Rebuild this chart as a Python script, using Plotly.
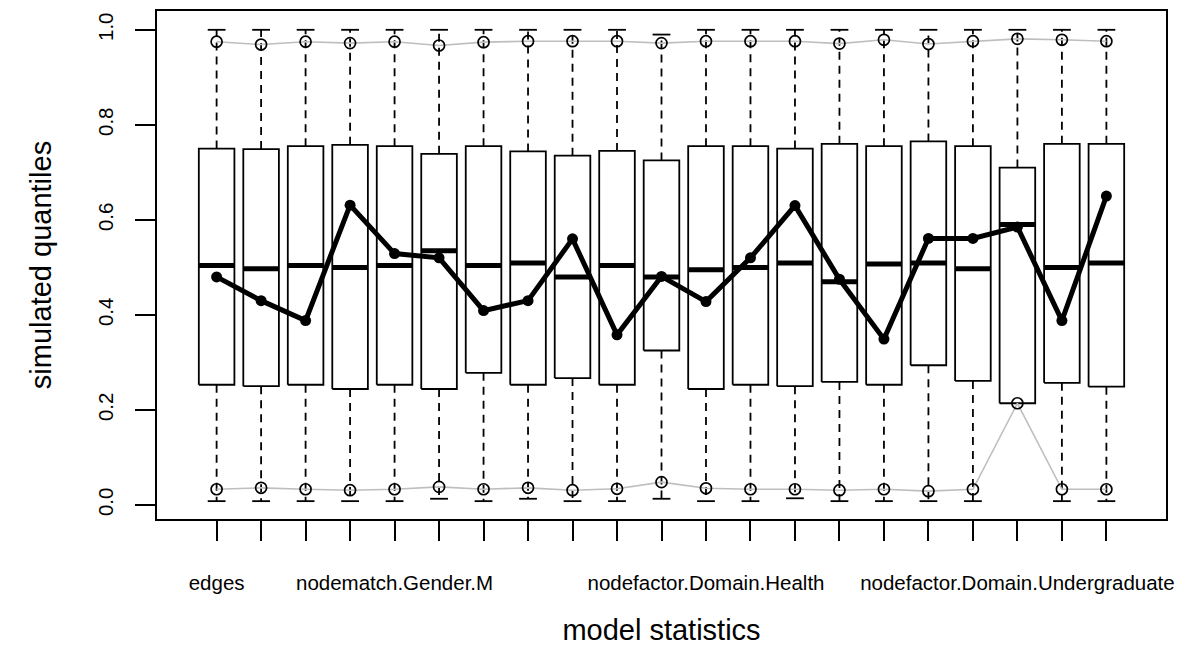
import plotly.graph_objects as go

# ---- data ----
tick_labels = ["edges", "", "", "", "nodematch.Gender.M", "", "", "", "", "", "",
               "nodefactor.Domain.Health", "", "", "", "", "", "",
               "nodefactor.Domain.Undergraduate", "", ""]
upper_whisker = [1.0, 1.0, 1.0, 1.0, 1.0, 1.0, 1.0, 1.0, 1.0, 1.0, 0.99,
                 1.0, 1.0, 1.0, 1.0, 1.0, 1.0, 1.0, 1.0, 1.0, 1.0]
q3 = [0.750, 0.749, 0.755, 0.758, 0.755, 0.739, 0.755, 0.744, 0.735, 0.745, 0.725,
      0.755, 0.755, 0.750, 0.760, 0.755, 0.765, 0.755, 0.710, 0.760, 0.760]
median = [0.504, 0.497, 0.504, 0.500, 0.504, 0.535, 0.504, 0.509, 0.480, 0.504, 0.480,
          0.495, 0.500, 0.509, 0.470, 0.507, 0.509, 0.497, 0.590, 0.500, 0.509]
q1 = [0.253, 0.250, 0.253, 0.244, 0.253, 0.244, 0.278, 0.253, 0.267, 0.253, 0.325,
      0.244, 0.253, 0.250, 0.259, 0.253, 0.294, 0.261, 0.214, 0.257, 0.249]
lower_whisker = [0.008, 0.008, 0.008, 0.008, 0.008, 0.013, 0.008, 0.013, 0.008, 0.008, 0.013,
                 0.008, 0.008, 0.014, 0.008, 0.008, 0.008, 0.008, 0.214, 0.008, 0.008]
upper_quantile = [0.975, 0.969, 0.975, 0.972, 0.975, 0.967, 0.974, 0.976, 0.976, 0.976, 0.972,
                  0.976, 0.976, 0.976, 0.971, 0.979, 0.970, 0.976, 0.981, 0.979, 0.976]
lower_quantile = [0.033, 0.036, 0.033, 0.031, 0.033, 0.038, 0.033, 0.036, 0.031, 0.034, 0.048,
                  0.035, 0.033, 0.033, 0.031, 0.033, 0.029, 0.033, 0.214, 0.033, 0.033]
observed = [0.480, 0.430, 0.388, 0.631, 0.529, 0.520, 0.409, 0.430, 0.560, 0.358, 0.481,
            0.428, 0.520, 0.630, 0.475, 0.349, 0.561, 0.561, 0.585, 0.388, 0.650]

n = len(q3)
pos = list(range(1, n + 1))
half_box = 0.4
half_staple = 0.2

FONT = "Liberation Sans, Arial, Helvetica, sans-serif"

# build geometry from the data arrays
wx, wy = [], []      # dashed whiskers
sx, sy = [], []      # staples
bx, by = [], []      # box outlines
mx, my = [], []      # medians
for i in range(n):
    p = pos[i]
    if upper_whisker[i] > q3[i]:
        wx += [p, p, None]; wy += [q3[i], upper_whisker[i], None]
    if lower_whisker[i] < q1[i]:
        wx += [p, p, None]; wy += [q1[i], lower_whisker[i], None]
    for v in (upper_whisker[i], lower_whisker[i]):
        if v != q1[i]:
            sx += [p - half_staple, p + half_staple, None]; sy += [v, v, None]
    bx += [p - half_box, p + half_box, p + half_box, p - half_box, p - half_box, None]
    by += [q1[i], q1[i], q3[i], q3[i], q1[i], None]
    mx += [p - half_box, p + half_box, None]; my += [median[i], median[i], None]

fig = go.Figure()
fig.add_trace(go.Scatter(x=wx, y=wy, mode="lines", hoverinfo="skip",
                         line=dict(color="black", width=1.8, dash="8px,6px")))
fig.add_trace(go.Scatter(x=sx, y=sy, mode="lines", hoverinfo="skip",
                         line=dict(color="black", width=1.8)))
fig.add_trace(go.Scatter(x=bx, y=by, mode="lines", hoverinfo="skip",
                         line=dict(color="black", width=1.8)))
fig.add_trace(go.Scatter(x=mx, y=my, mode="lines", hoverinfo="skip",
                         line=dict(color="black", width=5)))
for qv in (upper_quantile, lower_quantile):
    fig.add_trace(go.Scatter(x=pos, y=qv, mode="lines",
                             line=dict(color="#bebebe", width=1.6)))
    fig.add_trace(go.Scatter(x=pos, y=qv, mode="markers",
                             marker=dict(symbol="circle-open", size=11,
                                         color="black", line=dict(width=1.7))))
fig.add_trace(go.Scatter(x=pos, y=observed, mode="lines+markers",
                         line=dict(color="black", width=5),
                         marker=dict(color="black", size=11)))

fig.update_layout(
    width=1186, height=669,
    margin=dict(l=157, r=20, t=9, b=150),
    paper_bgcolor="white", plot_bgcolor="white",
    showlegend=False,
    font=dict(family=FONT, color="black", size=20),
)
fig.update_xaxes(
    range=[0.5 - 0.84, n + 0.5 + 0.84],
    tickmode="array", tickvals=pos, ticktext=tick_labels, tickangle=0,
    ticks="outside", ticklen=20, tickwidth=1.8, tickcolor="black",
    ticklabelstandoff=24,
    showline=True, linecolor="black", linewidth=1.8, mirror=True,
    showgrid=False, zeroline=False,
    tickfont=dict(size=20.5),
    title=dict(text="model statistics", font=dict(size=29), standoff=27),
)
fig.update_yaxes(
    range=[0.01 - 0.0396, 1.0 + 0.0396],
    tickmode="array", tickvals=[0, 0.2, 0.4, 0.6, 0.8, 1.0],
    ticktext=["0.0", "0.2", "0.4", "0.6", "0.8", "1.0"], tickangle=-90,
    ticks="outside", ticklen=20, tickwidth=1.8, tickcolor="black",
    ticklabelstandoff=14,
    showline=True, linecolor="black", linewidth=1.8, mirror=True,
    showgrid=False, zeroline=False,
    tickfont=dict(size=20.5),
    title=dict(text="simulated quantiles", font=dict(size=29), standoff=34),
)

fig.write_html("out.html")
